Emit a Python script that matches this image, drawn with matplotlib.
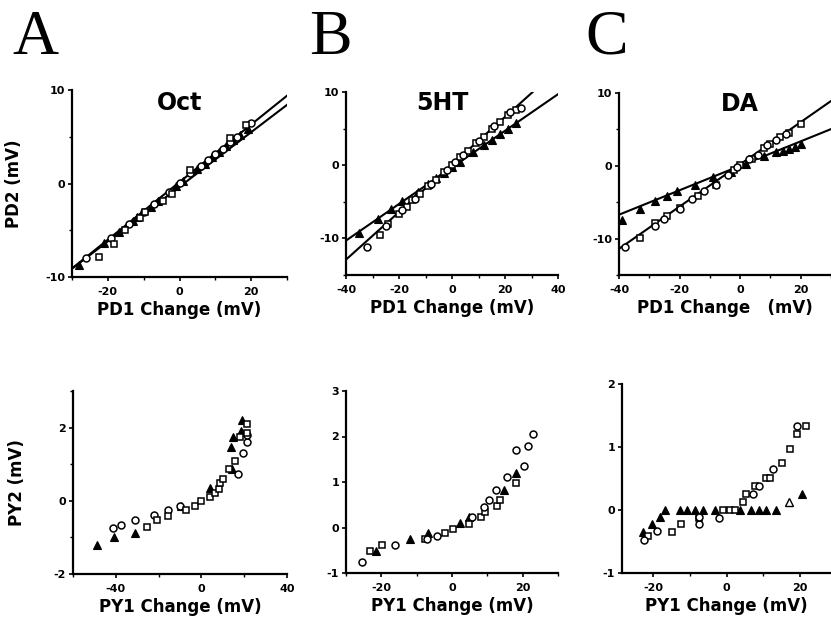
import matplotlib
matplotlib.use("Agg")
import matplotlib.pyplot as plt
import numpy as np
from matplotlib.ticker import FixedLocator

plt.rcParams["axes.unicode_minus"] = False

# ---------------- data ----------------
# Top row: PD2 vs PD1 change (mV)
oct_sq_x = [-22.5, -18.4, -15.3, -11.1, -9.5, -4.7, -2.0, 3.0, 14.0, 18.5]
oct_sq_y = [-7.9, -6.5, -5.0, -3.7, -3.0, -1.85, -1.07, 1.4, 4.9, 6.3]
oct_tri_x = [-28, -21, -17, -13, -12, -8, -6, -1, 1, 5, 7, 9, 11, 13, 15, 17, 19]
oct_tri_y = [-8.7, -6.4, -5.2, -4.0, -3.6, -2.5, -1.9, -0.3, 0.3, 1.5, 2.1, 2.8, 3.4, 4.0, 4.6, 5.2, 5.8]
oct_cir_x = [-26, -19, -14, -10, -7, -3, 0, 3, 6, 8, 10, 12, 14, 16, 20]
oct_cir_y = [-8.0, -5.8, -4.3, -3.0, -2.2, -0.9, 0.1, 1.1, 1.9, 2.5, 3.2, 3.7, 4.4, 5.0, 6.5]
oct_fit_slope = [0.308, 0.292]
oct_fit_icpt = [0.15, -0.35]

ht_tri_x = [-35, -28, -23, -19, -13, -9, -6, -3, 0, 3, 8, 12, 15, 18, 21, 24]
ht_tri_y = [-9.3, -7.3, -6.0, -4.9, -3.7, -2.5, -1.8, -1.1, -0.2, 0.5, 1.8, 2.7, 3.5, 4.2, 5.0, 5.7]
ht_cir_x = [-32, -25, -19, -14, -8, -2, 1, 4, 10, 16, 22, 26]
ht_cir_y = [-11.2, -8.3, -6.1, -4.6, -2.6, -0.6, 0.5, 1.4, 3.3, 5.4, 7.2, 7.8]
ht_sq_x = [-27, -24, -20, -17, -15, -12, -9, -6, -3, 0, 3, 6, 9, 12, 15, 18, 21, 24]
ht_sq_y = [-9.6, -8.0, -6.6, -5.7, -4.7, -3.9, -2.9, -2.0, -0.9, 0.0, 1.1, 2.0, 3.0, 3.9, 4.9, 5.9, 6.9, 7.6]
ht_fit_slope = [0.325, 0.25]
ht_fit_icpt = [0.1, -0.3]

da_tri_x = [-39, -33, -28, -24, -21, -15, -9, -3, 2, 8, 12, 14, 16, 18, 20]
da_tri_y = [-7.5, -6.0, -4.9, -4.2, -3.5, -2.7, -1.6, -0.8, 0.3, 1.3, 1.9, 2.0, 2.3, 2.6, 3.0]
da_cir_x = [-38, -28, -25, -20, -16, -12, -8, -4, -1, 3, 6, 9, 12, 15]
da_cir_y = [-11.2, -8.3, -7.3, -5.9, -4.5, -3.5, -2.6, -1.2, -0.2, 0.9, 1.5, 2.8, 3.6, 4.4]
da_sq_x = [-33, -28, -24, -20, -14, -8, -2, 0, 4, 8, 10, 13, 16, 20]
da_sq_y = [-9.9, -7.9, -6.9, -5.8, -4.2, -2.7, -0.6, 0.1, 1.0, 2.5, 3.0, 3.9, 4.5, 5.7]
da_fit_slope = [0.29, 0.168]
da_fit_icpt = [0.2, 0.0]

# Bottom row: PY2 vs PY1 change (mV)
pyo_tri_x = [-48.9, -41.0, -31.0, -9.5, 4.0, 14.3, 13.7, 14.8, 18.3, 19.0]
pyo_tri_y = [-1.22, -0.98, -0.88, -0.14, 0.36, 0.86, 1.47, 1.75, 1.9, 2.2]
pyo_cir_x = [-41.3, -37.6, -31.0, -22.2, -15.4, -9.8, 17.0, 19.5, 21.4, 21.4]
pyo_cir_y = [-0.75, -0.65, -0.52, -0.38, -0.25, -0.14, 0.72, 1.31, 1.6, 1.8]
pyo_sq_x = [-25.4, -20.6, -15.4, -7.1, -3.0, 0.0, 4.0, 6.3, 8.0, 8.7, 10.3, 12.7, 15.9, 17.9, 21.4, 21.1]
pyo_sq_y = [-0.72, -0.52, -0.41, -0.26, -0.14, 0.0, 0.1, 0.22, 0.33, 0.49, 0.6, 0.86, 1.1, 1.75, 2.1, 1.86]

pyh_cir_x = [-25.5, -16.0, -7.2, -4.3, 5.7, 9.0, 10.5, 12.4, 15.7, 18.1, 20.3, 21.4, 22.9]
pyh_cir_y = [-0.75, -0.38, -0.25, -0.18, 0.22, 0.45, 0.6, 0.83, 1.1, 1.7, 1.35, 1.8, 2.05]
pyh_sq_x = [-23.3, -19.7, -7.6, -2.1, 0.3, 4.8, 8.1, 9.3, 12.7, 13.7, 18.1]
pyh_sq_y = [-0.51, -0.38, -0.25, -0.13, -0.03, 0.08, 0.22, 0.33, 0.48, 0.6, 0.98]
pyh_tri_x = [-21.4, -11.9, -6.9, 2.4, 4.8, 14.7, 18.1]
pyh_tri_y = [-0.51, -0.25, -0.13, 0.1, 0.22, 0.83, 1.2]

pyd_tri_x = [-22.7, -20.4, -18.2, -16.8, -12.7, -10.9, -8.6, -6.4, -3.2, 3.6, 6.8, 8.9, 10.9, 13.5, 20.7]
pyd_tri_y = [-0.35, -0.22, -0.11, 0.0, 0.0, 0.0, 0.0, 0.0, 0.0, 0.0, 0.0, 0.0, 0.0, 0.0, 0.25]
pyd_otri_x = [17.1]
pyd_otri_y = [0.13]
pyd_cir_x = [-22.5, -18.9, -7.5, -7.5, -2.0, 7.3, 8.9, 12.7, 19.2]
pyd_cir_y = [-0.48, -0.34, -0.22, -0.11, -0.12, 0.25, 0.38, 0.65, 1.33]
pyd_sq_x = [-21.4, -14.8, -12.5, -7.5, -0.9, 0.9, 2.3, 4.4, 5.4, 7.7, 10.7, 11.8, 15.0, 17.2, 19.2, 21.8]
pyd_sq_y = [-0.42, -0.35, -0.22, -0.12, 0.0, 0.0, 0.0, 0.13, 0.25, 0.38, 0.51, 0.51, 0.74, 0.97, 1.21, 1.33]

# ---------------- figure ----------------
W, H = 831, 621
fig = plt.figure(figsize=(W / 100, H / 100), dpi=100)
TICKFONT = dict(family="DejaVu Sans", weight="bold", size=8)
LABFONT = dict(family="DejaVu Sans", weight="bold", size=12)


def px_axes(l, t, r, b):
    return fig.add_axes([l / W, 1 - b / H, (r - l) / W, (b - t) / H])


def style(ax, xlim, ylim, xmaj, ymaj, xmin, ymin):
    ax.set_xlim(*xlim)
    ax.set_ylim(*ylim)
    for s in ("top", "right"):
        ax.spines[s].set_visible(False)
    for s in ("left", "bottom"):
        ax.spines[s].set_linewidth(1.6)
    ax.xaxis.set_major_locator(FixedLocator(xmaj))
    ax.yaxis.set_major_locator(FixedLocator(ymaj))
    ax.xaxis.set_minor_locator(FixedLocator(xmin))
    ax.yaxis.set_minor_locator(FixedLocator(ymin))
    ax.tick_params(which="major", direction="out", length=3, width=1.2, pad=2)
    ax.tick_params(which="minor", direction="out", length=2, width=1.0)
    ax.tick_params(axis="x", which="major", pad=4)
    for lab in ax.get_xticklabels() + ax.get_yticklabels():
        lab.set(**TICKFONT)


def scatter(ax, x, y, kind):
    if kind == "sq":
        ax.plot(x, y, ls="none", marker="s", ms=5, mfc="white", mec="black", mew=1.1, zorder=3)
    elif kind == "cir":
        ax.plot(x, y, ls="none", marker="o", ms=5, mfc="white", mec="black", mew=1.1, zorder=3)
    elif kind == "tri":
        ax.plot(x, y, ls="none", marker="^", ms=6, mfc="black", mec="black", mew=0.8, zorder=3)
    elif kind == "otri":
        ax.plot(x, y, ls="none", marker="^", ms=5.5, mfc="white", mec="black", mew=1.0, zorder=3)


def fits(ax, slopes, icpts, xlim):
    xs = np.array(xlim, dtype=float)
    for m, b in zip(slopes, icpts):
        ax.plot(xs, m * xs + b, color="black", lw=1.5, zorder=2, clip_on=True)


# --- Top row ---
axA = px_axes(72, 90, 287, 277)
xl = (-30, 30)
fits(axA, oct_fit_slope, oct_fit_icpt, xl)
scatter(axA, oct_tri_x, oct_tri_y, "tri")
scatter(axA, oct_cir_x, oct_cir_y, "cir")
scatter(axA, oct_sq_x, oct_sq_y, "sq")
style(axA, xl, (-10, 10), [-20, 0, 20], [-10, 0, 10], [-30, -10, 10, 30], [-5, 5])
axA.set_xlabel("PD1 Change (mV)", **LABFONT, labelpad=3)
axA.set_ylabel("PD2 (mV)", **LABFONT)
axA.yaxis.set_label_coords(-0.23, 0.5)
axA.text(0.5, 0.93, "Oct", transform=axA.transAxes, ha="center", va="center",
         family="DejaVu Sans", weight="bold", size=17)

axB = px_axes(346, 92, 558, 275)
xl = (-40, 40)
fits(axB, ht_fit_slope, ht_fit_icpt, xl)
scatter(axB, ht_tri_x, ht_tri_y, "tri")
scatter(axB, ht_sq_x, ht_sq_y, "sq")
scatter(axB, ht_cir_x, ht_cir_y, "cir")
style(axB, xl, (-15, 10), [-40, -20, 0, 20, 40], [-10, 0, 10], [-30, -10, 10, 30], [-15, -5, 5])
axB.set_xlabel("PD1 Change (mV)", **LABFONT, labelpad=3)
axB.text(0.455, 0.94, "5HT", transform=axB.transAxes, ha="center", va="center",
         family="DejaVu Sans", weight="bold", size=17)

axC = px_axes(619, 93, 831, 275)
xl = (-40, 30)
fits(axC, da_fit_slope, da_fit_icpt, xl)
scatter(axC, da_tri_x, da_tri_y, "tri")
scatter(axC, da_sq_x, da_sq_y, "sq")
scatter(axC, da_cir_x, da_cir_y, "cir")
style(axC, xl, (-15, 10), [-40, -20, 0, 20], [-10, 0, 10], [-30, -10, 10, 30], [-15, -5, 5])
axC.set_xlabel("PD1 Change   (mV)", **LABFONT, labelpad=3)
axC.text(0.57, 0.94, "DA", transform=axC.transAxes, ha="center", va="center",
         family="DejaVu Sans", weight="bold", size=17)

# --- Bottom row ---
axD = px_axes(73, 391, 287, 574)
style(axD, (-60, 40), (-2, 3), [-40, 0, 40], [-2, 0, 2], [-60, -20, 20], [-1, 1, 3])
scatter(axD, pyo_tri_x, pyo_tri_y, "tri")
scatter(axD, pyo_cir_x, pyo_cir_y, "cir")
scatter(axD, pyo_sq_x, pyo_sq_y, "sq")
axD.set_xlabel("PY1 Change (mV)", **LABFONT, labelpad=3)
axD.set_ylabel("PY2 (mV)", **LABFONT)
axD.yaxis.set_label_coords(-0.22, 0.5)

axE = px_axes(346, 391, 558, 573)
style(axE, (-30, 30), (-1, 3), [-20, 0, 20], [-1, 0, 1, 2, 3], [-30, -10, 10, 30], [])
scatter(axE, pyh_tri_x, pyh_tri_y, "tri")
scatter(axE, pyh_sq_x, pyh_sq_y, "sq")
scatter(axE, pyh_cir_x, pyh_cir_y, "cir")
axE.set_xlabel("PY1 Change (mV)", **LABFONT, labelpad=3)

axF = px_axes(622, 384, 831, 573)
style(axF, (-28.5, 28.5), (-1, 2), [-20, 0, 20], [-1, 0, 1, 2], [-10, 10], [])
scatter(axF, pyd_tri_x, pyd_tri_y, "tri")
scatter(axF, pyd_otri_x, pyd_otri_y, "otri")
scatter(axF, pyd_sq_x, pyd_sq_y, "sq")
scatter(axF, pyd_cir_x, pyd_cir_y, "cir")
axF.set_xlabel("PY1 Change (mV)", **LABFONT, labelpad=3)

# Panel letters
for letter, xpx in (("A", 35), ("B", 330), ("C", 607)):
    fig.text(xpx / W, 1 - 39 / H, letter, ha="center", va="center",
             family="Liberation Serif", size=46)

fig.savefig("out.png", dpi=100, facecolor="white")
